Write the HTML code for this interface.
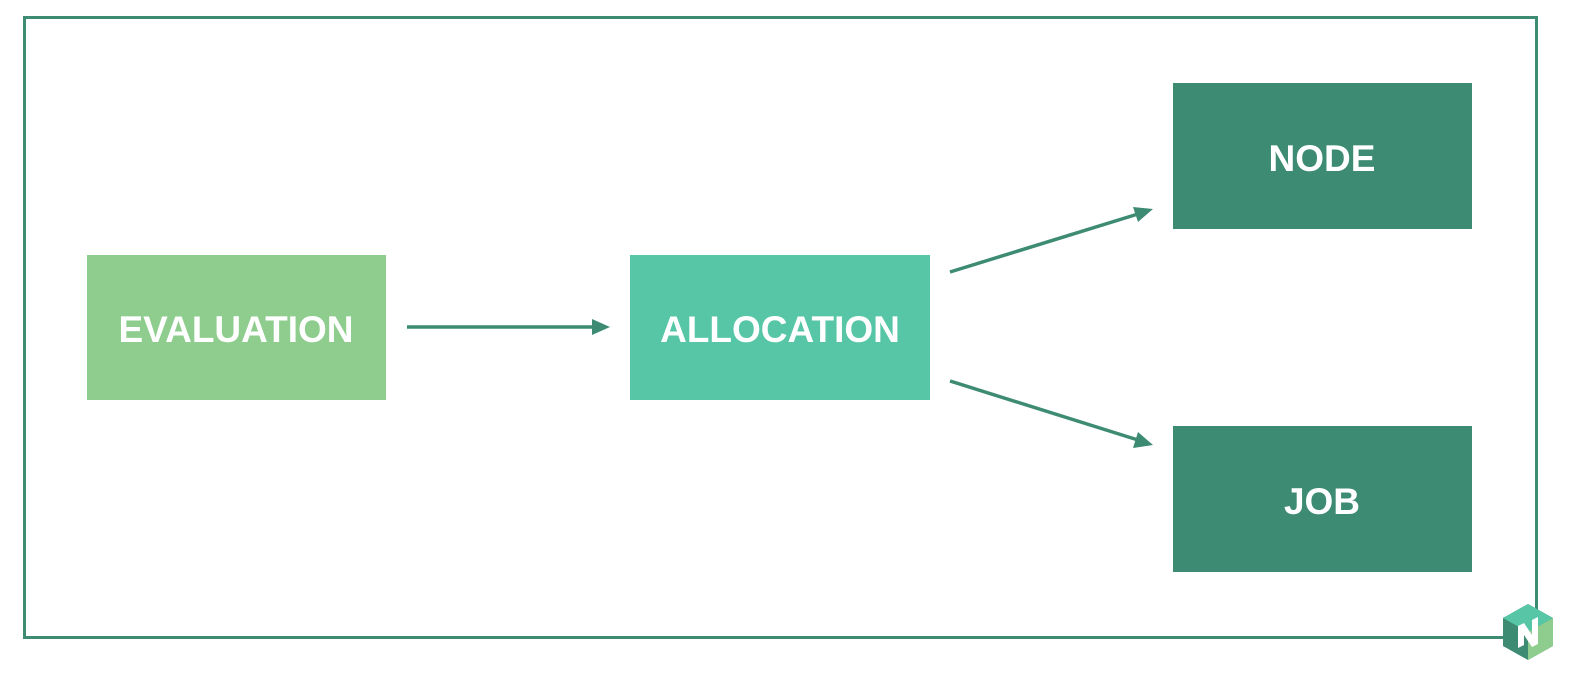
<!DOCTYPE html>
<html><head><style>
body{margin:0;width:1582px;height:676px;background:#fff;overflow:hidden;font-family:"Liberation Sans",sans-serif}
</style></head><body>
<svg width="1582" height="676" viewBox="0 0 1582 676" style="display:block">
<rect x="24.5" y="17.5" width="1512" height="620" fill="none" stroke="#3d8b73" stroke-width="3"/>
<rect x="87" y="255" width="299" height="145" fill="#8ecd8e"/>
<rect x="630" y="255" width="300" height="145" fill="#56c6a6"/>
<rect x="1173" y="83" width="299" height="146" fill="#3d8b73"/>
<rect x="1173" y="426" width="299" height="146" fill="#3d8b73"/>
<g fill="#fff" font-size="37" text-anchor="middle" font-weight="bold">
<text x="236" y="342">EVALUATION</text>
<text x="780" y="342">ALLOCATION</text>
<text x="1322" y="171">NODE</text>
<text x="1322" y="514">JOB</text>
</g>
<g stroke="#3d8b73" stroke-width="3.5" fill="none">
<line x1="407" y1="327" x2="595" y2="327"/>
<line x1="950" y1="272" x2="1138" y2="214"/>
<line x1="950" y1="381" x2="1138" y2="440"/>
</g>
<g fill="#3d8b73">
<polygon points="610,327 592,319 592,335"/>
<polygon points="1153,209 1133,207 1138,222"/>
<polygon points="1153,445 1138,432 1133,448"/>
</g>
<g transform="translate(1528,632)">
<polygon points="0,-28 25,-14 25,14 0,28 -25,14 -25,-14" fill="#3d8b73"/>
<polygon points="0,-28 25,-14 0,0 -25,-14" fill="#56c6a6"/>
<polygon points="25,-14 25,14 0,28 0,0" fill="#8ecd8e"/>
<path d="M-10,-6 L-4,-9 L4,3 L4,-12 L10,-15 L10,12 L4,15 L-4,3 L-4,13 L-10,16 Z" fill="#fff"/>
</g>
</svg>
</body></html>
